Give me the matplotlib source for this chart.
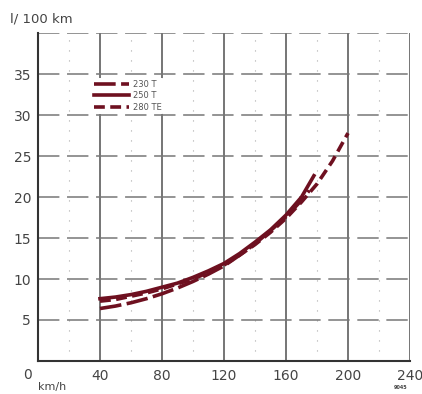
import matplotlib
matplotlib.use("Agg")
import matplotlib.pyplot as plt

# Data (speed km/h -> consumption l/100 km)
speed_230 = [40, 50, 60, 70, 80, 90, 100, 110, 120, 130, 140, 150, 160, 170, 175]
cons_230 = [6.4, 6.7, 7.1, 7.6, 8.2, 8.9, 9.7, 10.6, 11.6, 12.9, 14.3, 15.9, 17.6, 19.6, 20.8]
speed_250 = [40, 50, 60, 70, 80, 90, 100, 110, 120, 130, 140, 150, 160, 170, 178]
cons_250 = [7.6, 7.8, 8.1, 8.5, 9.0, 9.5, 10.2, 11.0, 11.9, 13.1, 14.5, 16.0, 17.8, 20.0, 22.6]
speed_280 = [40, 50, 60, 70, 80, 90, 100, 110, 120, 130, 140, 150, 160, 170, 180, 190, 200]
cons_280 = [7.3, 7.5, 7.9, 8.3, 8.8, 9.4, 10.0, 10.8, 11.7, 12.9, 14.2, 15.7, 17.4, 19.4, 21.6, 24.4, 27.8]
labels = ["230 T", "250 T", "280 TE"]
x_ticks = [40, 80, 120, 160, 200, 240]
y_ticks = [5, 10, 15, 20, 25, 30, 35]

fig = plt.figure(figsize=(4.22, 3.94), dpi=100)
ax = fig.add_axes([0.090, 0.0838, 0.8816, 0.8322])
ax.set_xlim(0, 240)
ax.set_ylim(0, 40)

grid_c = "#6a6a6a"
for xv in x_ticks:
    ax.axvline(xv, color=grid_c, lw=1.3, zorder=1)
for xv in [20, 60, 100, 140, 180, 220]:
    ax.axvline(xv, color="#aaaaaa", lw=0.8, ls=(0, (1, 8)), zorder=1)
for yv in y_ticks + [40]:
    ax.axhline(yv, color="#777777", lw=1.1, ls=(0, (14, 5)), zorder=1)

col = "#6e1020"
ax.plot(speed_230, cons_230, color=col, lw=2.6, ls=(0, (6, 1.5)), label=labels[0], zorder=3)
ax.plot(speed_250, cons_250, color=col, lw=2.6, ls="-", label=labels[1], zorder=3)
ax.plot(speed_280, cons_280, color=col, lw=2.6, ls=(0, (3, 1.5)), label=labels[2], zorder=3)

leg = ax.legend(loc="upper left", bbox_to_anchor=(0.135, 0.875), frameon=True,
                fontsize=6, handlelength=4.2, labelspacing=0.3,
                handletextpad=0.5, borderpad=0.2, labelcolor="#555555")
leg.get_frame().set_edgecolor("none")
leg.get_frame().set_facecolor("white")
leg.get_frame().set_alpha(1)
leg.set_zorder(4)

for s in ["top", "right"]:
    ax.spines[s].set_visible(False)
for s in ["left", "bottom"]:
    ax.spines[s].set_color("#333333")
    ax.spines[s].set_linewidth(1.5)

ax.set_xticks(x_ticks)
ax.set_yticks(y_ticks)
ax.tick_params(length=0, labelsize=10, colors="#444444", pad=6)
ax.tick_params(axis="y", pad=5)

ax.text(-7, -0.9, "0", ha="center", va="top", fontsize=10, color="#444444")
ax.text(-18, 40.9, "l/ 100 km", ha="left", va="bottom", fontsize=9.5, color="#444444")
ax.text(0, -2.6, "km/h", ha="left", va="top", fontsize=8, color="#444444")
ax.text(234, -2.9, "9045", ha="center", va="top", fontsize=3.5, color="#444444",
        fontweight="bold")

fig.savefig("out.png", dpi=100)
